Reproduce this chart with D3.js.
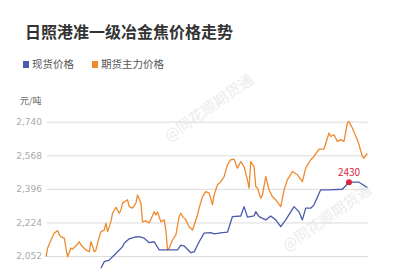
<!DOCTYPE html>
<html>
<head>
<meta charset="utf-8">
<script src="https://cdn.jsdelivr.net/npm/d3@7"></script>
<style>
  body { margin: 0; background: #fff; overflow: hidden; }
  svg { display: block; font-family: "Noto Sans CJK SC", "Noto Sans", sans-serif; }
</style>
</head>
<body>
<div id="chart"></div>
<script>
// chart data (x = trading day index)
const title = "日照港准一级冶金焦价格走势";
const unit = "元/吨";
const seriesNames = ["现货价格", "期货主力价格"];
const seriesColors = ["#4b5cab", "#ef8a2c"];
const yTicks = [2052, 2224, 2396, 2568, 2740];

const futuresDays = [0,1,3,5,7,8,9,11,12,13,15,16,18,20,21,24,26,27,29,30,32,33,35,36,37,39,40,42,44,45,46,49,50,52,54,55,57,58,60,62,65,66,67,69,71,72,73,74,76,78,80,81,82,84,86,88,89,91,92,94,96,98,100,101,103,105,107,109,111,113,115,117,119,121,122,123,125,126,127,129,130,132,134,136,138,141,143,145,148,151,154,156,159,161,164,167,170,171,173,175,177,179,181,182,184,187,188,190,191,193];
const futuresPrice = [2048,2093,2134,2170,2182,2160,2150,2144,2093,2048,2093,2088,2103,2125,2108,2083,2074,2125,2074,2083,2151,2177,2185,2220,2177,2228,2271,2302,2271,2288,2323,2340,2305,2297,2323,2365,2324,2227,2232,2221,2279,2262,2278,2227,2237,2185,2083,2093,2134,2160,2254,2271,2254,2237,2202,2185,2211,2262,2297,2356,2382,2374,2314,2365,2417,2433,2459,2519,2545,2548,2502,2536,2509,2442,2400,2536,2510,2408,2400,2348,2365,2459,2391,2356,2340,2305,2391,2442,2485,2468,2433,2502,2545,2562,2600,2600,2682,2665,2673,2639,2648,2639,2733,2741,2708,2648,2622,2562,2553,2579];

const spotDays = [33,35,38,40,43,46,47,50,53,56,59,62,65,68,79,81,83,87,89,92,95,99,101,106,109,112,117,119,121,125,126,128,132,135,138,141,144,149,152,154,156,159,161,165,170,178,182,188,193];
const spotPrice = [1989,2023,2031,2048,2074,2100,2117,2140,2148,2151,2143,2120,2125,2083,2083,2108,2103,2069,2073,2125,2169,2172,2165,2172,2174,2254,2257,2305,2251,2257,2279,2254,2237,2257,2237,2202,2237,2305,2278,2237,2297,2297,2314,2391,2391,2394,2430,2430,2403];

const markDay = 182;
const markValue = 2430;

const width = 396, height = 269;

const svg = d3.select("#chart").append("svg")
  .attr("width", width)
  .attr("height", height);

// watermark
const wm = [[212, 112], [330, 222]];
svg.selectAll("text.wm")
  .data(wm)
  .enter()
  .append("text")
  .attr("class", "wm")
  .attr("transform", d => `translate(${d[0]},${d[1]}) rotate(-35)`)
  .attr("text-anchor", "middle")
  .attr("font-size", 15)
  .attr("fill", "#ececec")
  .text("@同花顺期货通");

// title
svg.append("text")
  .attr("x", 25)
  .attr("y", 38)
  .attr("font-size", 16)
  .attr("font-weight", "bold")
  .attr("fill", "#333")
  .text(title);

// legend
const legendX = [23, 92];
const lg = svg.selectAll("g.legend")
  .data(seriesNames)
  .enter()
  .append("g")
  .attr("class", "legend")
  .attr("transform", (d, i) => `translate(${legendX[i]},61)`);
lg.append("rect")
  .attr("width", 6)
  .attr("height", 7)
  .attr("fill", (d, i) => seriesColors[i]);
lg.append("text")
  .attr("x", 9)
  .attr("y", 7)
  .attr("font-size", 10.5)
  .attr("fill", "#555")
  .text(d => d);

// scales
const x = d3.scaleLinear().domain([0, 193]).range([46, 367.3]);
const y = d3.scaleLinear().domain([2052, 2740]).range([256, 121.7]);

// grid + y axis
const yAxis = d3.axisLeft(y)
  .tickValues(yTicks)
  .tickSize(-(368 - 47))
  .tickFormat(d3.format(","));
const ga = svg.append("g")
  .attr("transform", "translate(47,0)")
  .call(yAxis);
ga.select(".domain").remove();
ga.selectAll(".tick line").attr("stroke", "#dcdcdc");
ga.selectAll(".tick text")
  .attr("x", -5)
  .attr("fill", "#aaa")
  .attr("font-size", 9)
  .attr("font-family", "DejaVu Sans, sans-serif");

svg.append("text")
  .attr("x", 20)
  .attr("y", 104)
  .attr("font-size", 9)
  .attr("fill", "#666")
  .text(unit);

// lines
const line = d3.line()
  .x(d => x(d[0]))
  .y(d => y(d[1]));

const spot = spotDays.map((d, i) => [d, spotPrice[i]]);
const futures = futuresDays.map((d, i) => [d, futuresPrice[i]]);

svg.append("path")
  .datum(futures)
  .attr("d", line)
  .attr("fill", "none")
  .attr("stroke", seriesColors[1])
  .attr("stroke-width", 1.3)
  .attr("stroke-linejoin", "round");

svg.append("path")
  .datum(spot)
  .attr("d", line)
  .attr("fill", "none")
  .attr("stroke", seriesColors[0])
  .attr("stroke-width", 1.3)
  .attr("stroke-linejoin", "round");

// marked point
svg.append("circle")
  .attr("cx", x(markDay))
  .attr("cy", y(markValue))
  .attr("r", 3)
  .attr("fill", "#d7263d");
svg.append("text")
  .attr("x", x(markDay))
  .attr("y", y(markValue) - 6)
  .attr("text-anchor", "middle")
  .attr("font-size", 10)
  .attr("fill", "#d7263d")
  .text(markValue);
</script>
</body>
</html>
